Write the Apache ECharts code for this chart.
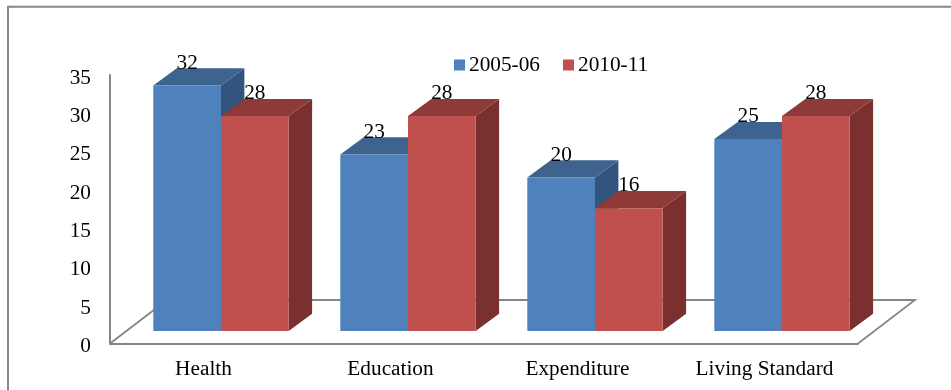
<!DOCTYPE html>
<html>
<head>
<meta charset="utf-8">
<style>
  html, body { margin: 0; padding: 0; background: #fff; }
  #chart { width: 951px; height: 390px; }
</style>
<script src="https://cdn.jsdelivr.net/npm/echarts@6/dist/echarts.min.js"></script>
</head>
<body>
<div id="chart"></div>
<script>
const categories = ['Health', 'Education', 'Expenditure', 'Living Standard'];
const values200506 = [32, 23, 20, 25];
const values201011 = [28, 28, 16, 28];
const yTicks = { min: 0, max: 35, interval: 5 };

const serifFont = '"Liberation Serif", "Times New Roman", serif';
const fontSize = 21.3;
const axisGrey = '#868686';

// Oblique projection used for the 3D boxes and the floor
const barDepth = { dx: 23.4, dy: 17.2 };
const floorDepth = { dx: 57, dy: 43.5 };
const frontPlane = { dx: 17.5, dy: 12.6 };
const barWidthRatio = 0.362;

const faces = {
  blue: { front: '#4F81BD', top: '#3E638F', side: '#33547C' },
  red: { front: '#C0504D', top: '#8E3A39', side: '#7A302E' }
};

// Draws one extruded column: front, top and side faces plus its value label
function boxRenderer(palette, leftOfCentre) {
  return function (params, api) {
    const idx = api.value(0);
    const val = api.value(1);
    const top = api.coord([idx, val]);
    const base = api.coord([idx, 0]);
    const w = api.size([1, 0])[0] * barWidthRatio;
    const seam = top[0] + frontPlane.dx;
    const x0 = leftOfCentre ? seam - w : seam;
    const x1 = x0 + w;
    const y0 = top[1] - frontPlane.dy;
    const y1 = base[1] - frontPlane.dy;
    const dx = barDepth.dx, dy = barDepth.dy;
    return {
      type: 'group',
      children: [
        { type: 'polygon', shape: { points: [[x1, y0], [x1 + dx, y0 - dy], [x1 + dx, y1 - dy], [x1, y1]] },
          style: { fill: palette.side } },
        { type: 'polygon', shape: { points: [[x0, y0], [x0 + dx, y0 - dy], [x1 + dx, y0 - dy], [x1, y0]] },
          style: { fill: palette.top } },
        { type: 'rect', shape: { x: x0, y: y0, width: w, height: y1 - y0 },
          style: { fill: api.visual('color') } },
        { type: 'text', z2: 50,
          style: { text: String(val), x: (x0 + x1) / 2, y: y0 - 22.5, align: 'center', verticalAlign: 'middle',
                    fill: '#000', font: fontSize + 'px ' + serifFont } }
      ]
    };
  };
}

// Floor of the plot: the left, back and right edges of the parallelogram
function floorRenderer(params) {
  const cs = params.coordSys;
  const bottom = cs.y + cs.height;
  const right = cs.x + cs.width;
  return {
    type: 'polyline',
    shape: { points: [
      [cs.x, bottom],
      [cs.x + floorDepth.dx, bottom - floorDepth.dy],
      [right + floorDepth.dx, bottom - floorDepth.dy],
      [right, bottom]
    ] },
    style: { fill: null, stroke: axisGrey, lineWidth: 1.8 }
  };
}

const chart = echarts.init(document.getElementById('chart'), null, { renderer: 'canvas' });
chart.setOption({
  animation: false,
  backgroundColor: '#fff',
  graphic: [
    // Outer frame, open on the right and at the bottom
    { type: 'polyline', silent: true,
      shape: { points: [[8, 390], [8, 6.8], [951, 6.8]] },
      style: { fill: null, stroke: axisGrey, lineWidth: 2 } }
  ],
  grid: { left: 110, top: 75, width: 748, height: 268.5 },
  legend: {
    data: ['2005-06', '2010-11'],
    left: 449, top: 49.5,
    icon: 'rect', itemWidth: 11, itemHeight: 11, itemGap: 23,
    textStyle: { fontFamily: serifFont, fontSize: fontSize, color: '#000', padding: [0, 0, 0, -1] }
  },
  xAxis: {
    type: 'category',
    data: categories,
    axisTick: { show: false },
    axisLine: { show: true, lineStyle: { color: axisGrey, width: 2 } },
    axisLabel: { fontFamily: serifFont, fontSize: fontSize, color: '#000', margin: 15, interval: 0 }
  },
  yAxis: {
    type: 'value',
    min: yTicks.min, max: yTicks.max, interval: yTicks.interval,
    splitLine: { show: false },
    axisTick: { show: false },
    axisLine: { show: true, lineStyle: { color: axisGrey, width: 2 } },
    axisLabel: { fontFamily: serifFont, fontSize: fontSize, color: '#000', margin: 19,
                 verticalAlign: 'top', lineHeight: 6 }
  },
  series: [
    { type: 'custom', name: 'floor', silent: true, clip: false, z: 1,
      renderItem: floorRenderer, data: [[0, 0]] },
    { type: 'custom', name: '2005-06', clip: false, z: 2,
      itemStyle: { color: faces.blue.front },
      encode: { x: 0, y: 1 },
      renderItem: boxRenderer(faces.blue, true),
      data: values200506.map((v, i) => [i, v]) },
    { type: 'custom', name: '2010-11', clip: false, z: 3,
      itemStyle: { color: faces.red.front },
      encode: { x: 0, y: 1 },
      renderItem: boxRenderer(faces.red, false),
      data: values201011.map((v, i) => [i, v]) }
  ]
});
</script>
</body>
</html>
